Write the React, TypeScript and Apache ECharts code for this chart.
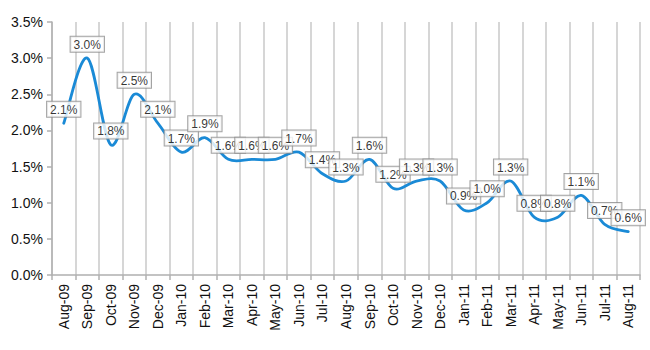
import React, { useEffect, useRef } from "react";
import * as echarts from "echarts";

const categories = [
  "Aug-09", "Sep-09", "Oct-09", "Nov-09", "Dec-09", "Jan-10", "Feb-10", "Mar-10",
  "Apr-10", "May-10", "Jun-10", "Jul-10", "Aug-10", "Sep-10", "Oct-10", "Nov-10",
  "Dec-10", "Jan-11", "Feb-11", "Mar-11", "Apr-11", "May-11", "Jun-11", "Jul-11", "Aug-11",
];

const rates = [
  2.1, 3.0, 1.8, 2.5, 2.1, 1.7, 1.9, 1.6, 1.6, 1.6, 1.7, 1.4, 1.3, 1.6, 1.2, 1.3,
  1.3, 0.9, 1.0, 1.3, 0.8, 0.8, 1.1, 0.7, 0.6,
];

const yMin = 0;
const yMax = 3.5;
const yStep = 0.5;

const FONT = "'Liberation Sans', Arial, Helvetica, sans-serif";
const LINE = "#1a8ad6";

function smoothPath(pts: number[][]): string {
  const n = pts.length;
  if (n === 0) return "";
  let d = `M${pts[0][0]},${pts[0][1]}`;
  const t = 1 / 6;
  for (let i = 0; i < n - 1; i++) {
    const p0 = pts[Math.max(0, i - 1)];
    const p1 = pts[i];
    const p2 = pts[i + 1];
    const p3 = pts[Math.min(n - 1, i + 2)];
    const c1x = p1[0] + (p2[0] - p0[0]) * t;
    const c1y = p1[1] + (p2[1] - p0[1]) * t;
    const c2x = p2[0] - (p3[0] - p1[0]) * t;
    const c2y = p2[1] - (p3[1] - p1[1]) * t;
    d += ` C${c1x},${c1y} ${c2x},${c2y} ${p2[0]},${p2[1]}`;
  }
  return d;
}

export default function App() {
  const ref = useRef<HTMLDivElement>(null);

  useEffect(() => {
    if (!ref.current) return;
    const chart = echarts.init(ref.current, undefined, { renderer: "svg" });
    chart.setOption({
      animation: false,
      grid: { left: 52, right: 10, top: 22, bottom: 75, containLabel: false },
      xAxis: {
        type: "category",
        data: categories,
        boundaryGap: true,
        axisLine: { show: true, lineStyle: { color: "#b0b0b0", width: 1.5 } },
        axisTick: { show: true, interval: 0, length: 5, lineStyle: { color: "#b0b0b0", width: 1.5 } },
        splitLine: { show: true, interval: 0, lineStyle: { color: "#d6d6d6", width: 2 } },
        axisLabel: {
          interval: 0,
          rotate: 90,
          fontSize: 14,
          color: "#111",
          fontFamily: FONT,
          margin: 9,
        },
      },
      yAxis: {
        type: "value",
        min: yMin,
        max: yMax,
        interval: yStep,
        axisLine: { show: true, lineStyle: { color: "#b0b0b0", width: 1.5 } },
        axisTick: { show: true, length: 5, lineStyle: { color: "#b0b0b0", width: 1.5 } },
        splitLine: { show: false },
        axisLabel: {
          fontSize: 14,
          color: "#111",
          fontFamily: FONT,
          margin: 9,
          formatter: (v: number) => `${v.toFixed(1)}%`,
        },
      },
      series: [
        {
          type: "custom",
          data: rates.map((v, i) => [i, v]),
          encode: { x: 0, y: 1 },
          silent: true,
          z: 2,
          renderItem: (params: any, api: any) => {
            if (params.dataIndex !== 0) return null;
            const pts = rates.map((v, i) => api.coord([i, v]));
            return {
              type: "path",
              shape: { pathData: smoothPath(pts) },
              style: { stroke: LINE, lineWidth: 2.8, fill: "none", lineJoin: "round", lineCap: "round" },
            };
          },
        },
        {
          type: "scatter",
          data: rates,
          symbol: "circle",
          symbolSize: 1,
          z: 3,
          itemStyle: { color: "transparent" },
          label: {
            show: true,
            position: "top",
            distance: 6,
            formatter: (p: any) => `${Number(p.value).toFixed(1)}%`,
            fontSize: 12,
            fontFamily: FONT,
            color: "#000",
            backgroundColor: "#fff",
            borderColor: "#8c8c8c",
            borderWidth: 1,
            padding: [2, 3, 1, 3],
          },
        },
      ],
    });
    return () => chart.dispose();
  }, []);

  return (
    <div
      ref={ref}
      style={{ position: "fixed", left: 0, top: 0, width: 650, height: 350, background: "#fff" }}
    />
  );
}
